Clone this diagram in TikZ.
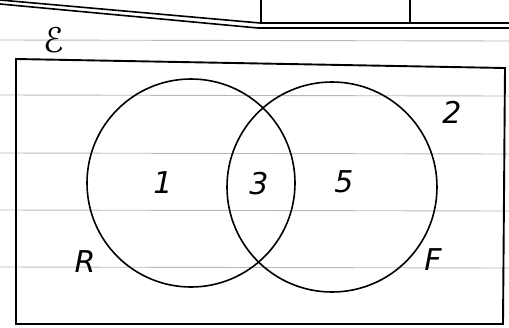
\documentclass[tikz,border=0pt]{standalone}
\usepackage{fontspec}
\setmainfont{DejaVu Sans}
\begin{document}
\begin{tikzpicture}[x=1pt,y=-1pt,
  ink/.style={draw=black,line width=1.6pt},
  rule/.style={draw=black!28,line width=0.9pt},
  lbl/.style={font=\fontsize{30}{30}\selectfont\itshape,inner sep=0pt},
  setname/.style={font=\fontsize{30}{30}\selectfont\itshape,inner sep=0pt}]
\useasboundingbox (0,0) rectangle (509,327);
% ruled paper lines
\foreach \y in {40,95,153,210,267} \draw[rule] (0,\y) -- (509,\y+1);
% header box (cut off)
\draw[ink] (0,0) -- (260,23) -- (509,23);
\draw[ink] (0,4) -- (258,28) -- (509,28);
\draw[ink] (261,0) -- (261,24);
\draw[ink] (410,0) -- (410,22);
% universal set rectangle
\draw[ink,line width=1.9pt] (16,59) -- (505,68) -- (503,324) -- (16,324) -- cycle;
% circles
\coordinate (cR) at (191,183);
\coordinate (cF) at (332,187);
\draw[ink] (cR) circle[radius=104];
\draw[ink] (cF) circle[radius=105];
% labels
\node[font=\fontsize{34}{34}\selectfont,inner sep=0pt] (eps) at (54,40) {ℰ};
\node[lbl] (one) at (163,183) {1};
\node[lbl] (three) at (259,184) {3};
\node[lbl] (five) at (344,182) {5};
\node[lbl] (two) at (452,112) {2};
\node[setname] (R) at (85,262) {R};
\node[setname] (F) at (433,260) {F};
\end{tikzpicture}
\end{document}
